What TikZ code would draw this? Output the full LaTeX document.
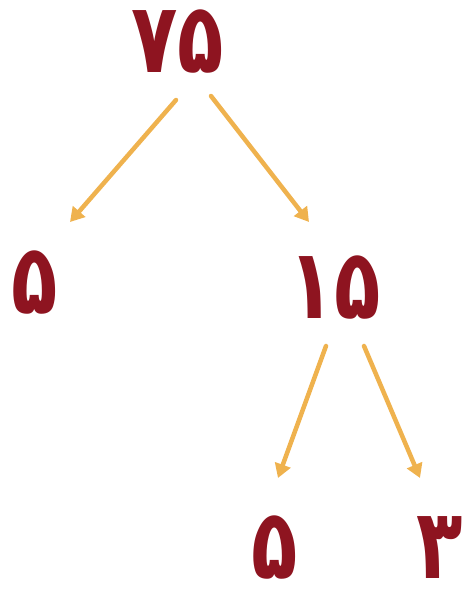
\documentclass[tikz,border=0pt]{standalone}
\usepackage{fontspec}
\newfontfamily\fa[Script=Arabic]{DejaVu Sans}
\usetikzlibrary{arrows.meta}
\definecolor{numred}{HTML}{8E1420}
\definecolor{arrorange}{HTML}{EFB24E}
\newcommand{\fanum}[1]{\scalebox{0.95}[1.22]{#1}}
\newcommand{\fanumlow}[1]{\smash{\scalebox{0.95}[1.22]{#1}}}
\tikzset{
  num/.style={text=numred, font=\fa\bfseries\fontsize{80}{80}\selectfont, inner sep=0pt, anchor=center},
  arr/.style={draw=arrorange, line width=4.5pt, line cap=round, -{Triangle[length=14pt,width=16pt]}}
}
\begin{document}
\begin{tikzpicture}[x=1pt,y=-1pt]
\useasboundingbox (0,0) rectangle (466,589);
\node[num] (n75) at (178,42) {\fanum{۷۵}};
\node[num] (n5a) at (35,283) {\fanum{۵}};
\node[num] (n15) at (335,288) {\fanum{۱۵}};
\node[num] (n5b) at (275,578) {\fanumlow{۵}};
\node[num] (n3) at (440,578) {\fanumlow{۳}};
\coordinate (a1s) at (176,100);
\coordinate (a1e) at (70,222);
\coordinate (a2s) at (211,96);
\coordinate (a2e) at (309,222);
\coordinate (a3s) at (326,346);
\coordinate (a3e) at (278,478);
\coordinate (a4s) at (364,346);
\coordinate (a4e) at (420,478);
\draw[arr] (a1s) -- (a1e);
\draw[arr] (a2s) -- (a2e);
\draw[arr] (a3s) -- (a3e);
\draw[arr] (a4s) -- (a4e);
\end{tikzpicture}
\end{document}
